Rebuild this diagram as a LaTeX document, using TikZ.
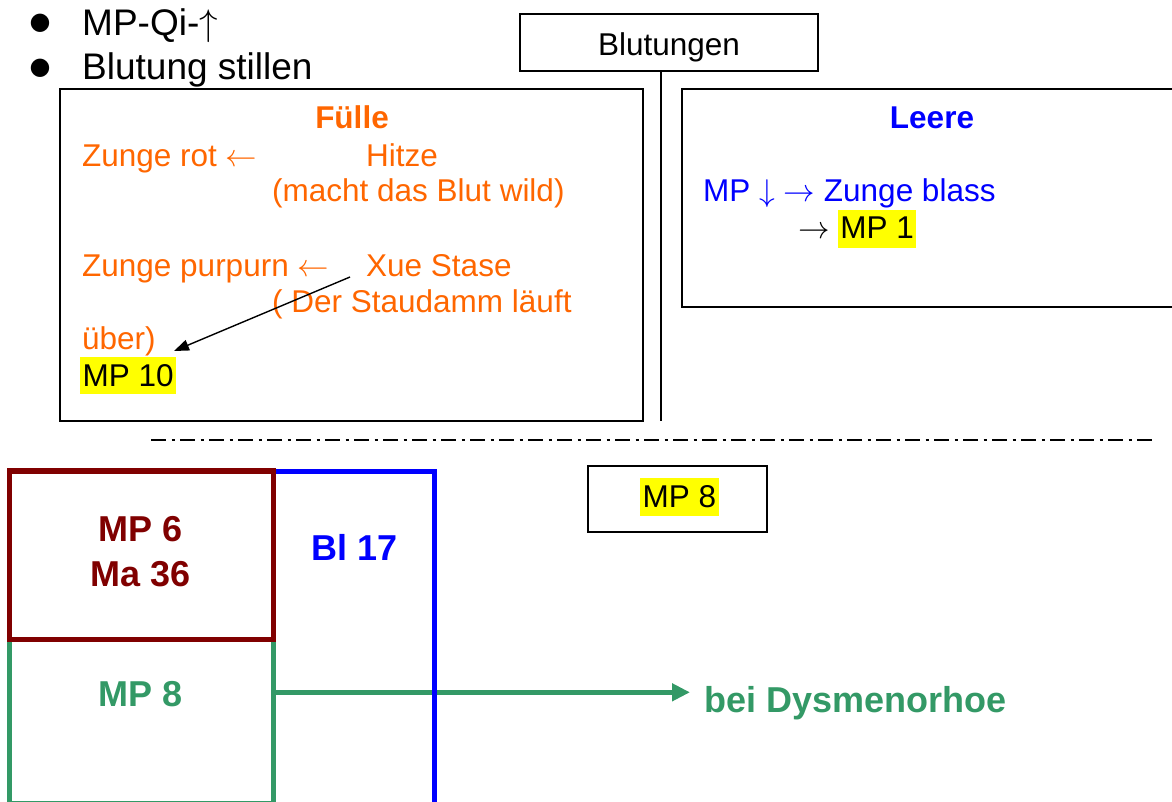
\RequirePackage{fix-cm}
\documentclass[tikz,border=0pt]{standalone}
\usepackage{fontspec}
\setmainfont{Liberation Sans}
\newfontfamily\dejavu{DejaVu Sans}
\newcommand\arw[1]{\ensuremath{#1}}
\usetikzlibrary{arrows.meta}
\definecolor{orng}{HTML}{FF6600}
\definecolor{dred}{HTML}{800000}
\definecolor{sgreen}{HTML}{339966}
\definecolor{hlyel}{HTML}{FFFF00}
\definecolor{pblue}{HTML}{0000FF}
\begin{document}
\begin{tikzpicture}[x=1pt,y=-1pt,
  txt/.style={inner sep=0pt, anchor=base west},
  ctxt/.style={inner sep=0pt, anchor=base},
  body/.style={font=\fontsize{31.5}{37}\selectfont},
  big/.style={font=\fontsize{37}{44}\selectfont},
  bigbold/.style={font=\fontsize{36}{43}\selectfont\bfseries},
  hl/.style={fill=hlyel, inner xsep=2.5pt, inner ysep=0pt, anchor=base west, text=black, body},
  frame/.style={draw=black, line width=1.8pt, rectangle, inner sep=0pt},
  bul/.style={inner sep=0pt, font=\dejavu\fontsize{24}{24}\selectfont}
]
\path[use as bounding box] (0,0) rectangle (1172,801);
\clip (0,0) rectangle (1172,801);

% bullets
\node[bul] (b1) at (40,23) {●};
\node[bul] (b2) at (40,68) {●};
\node[txt, big] (t1) at (82,35) {MP-Qi-\arw{\uparrow}};
\node[txt, big] (t2) at (82,79) {Blutung stillen};

% Blutungen
\node[frame, line width=1.5pt, minimum width=298pt, minimum height=57pt, body,
      text height=30pt, text depth=5pt] (blut) at (669,42.5) {Blutungen};
\coordinate (vt) at (661,71);
\coordinate (vb) at (661,421);
\draw[line width=1.6pt] (vt) -- (vb);

% Fuelle box
\node[frame, minimum width=583pt, minimum height=332pt] (fuelle) at (351.5,255) {};
\node[ctxt, body, font=\fontsize{31.5}{37}\selectfont\bfseries, text=orng] (fh) at (352,128) {Fülle};
\node[txt, body, text=orng] (f1) at (82,166) {Zunge rot \arw{\leftarrow}};
\node[txt, body, text=orng] (f2) at (366,166) {Hitze};
\node[txt, body, text=orng] (f3) at (272,201) {(macht das Blut wild)};
\node[txt, body, text=orng] (f4) at (82,276) {Zunge purpurn \arw{\leftarrow}};
\node[txt, body, text=orng] (f5) at (366,276) {Xue Stase};
\node[txt, body, text=orng] (f6) at (272,312) {( Der Staudamm läuft};
\node[txt, body, text=orng] (f7) at (82,349) {über)};
\node[hl, text height=29pt, text depth=8pt] (mp10) at (80,386) {MP 10};
\coordinate (as) at (350,277);
\coordinate (ae) at (174,351);
\draw[line width=1.4pt, -{Triangle[length=15pt,width=11pt]}] (as) -- (ae);

% Leere box
\node[frame, minimum width=508pt, minimum height=218pt] (leere) at (936,198) {};
\node[ctxt, font=\fontsize{31.5}{37}\selectfont\bfseries, text=pblue] (lh) at (932,128) {Leere};
\node[txt, body, text=pblue] (l1) at (703,201.7) {MP \arw{\downarrow} \arw{\rightarrow} Zunge blass};
\node[txt, body] (l2) at (798,238) {\arw{\rightarrow}};
\node[hl, text height=28pt, text depth=10pt] (mp1) at (837.7,238) {MP 1};

% dash-dot separator
\coordinate (ds) at (151,440);
\coordinate (de) at (1157,440);
\draw[line width=2pt, dash pattern=on 15pt off 5.5pt on 3pt off 5.5pt] (ds) -- (de);

% MP 8 box
\node[frame, minimum width=178.4pt, minimum height=66.3pt] (mp8box) at (677.5,499.2) {};
\node[hl, text height=29.3pt, text depth=8.7pt] (mp8hl) at (640,507) {MP 8};

% bottom boxes
\coordinate (gs) at (276,692.3);
\coordinate (ge) at (690,692.3);
\draw[sgreen, line width=5pt, -{Triangle[length=18pt,width=17pt]}] (gs) -- (ge);
\node[draw=pblue, line width=5.5pt, rectangle, inner sep=0pt,
      minimum width=161.2pt, minimum height=340pt] (blbox) at (353.9,641.5) {};
\node[draw=sgreen, line width=4.5pt, rectangle, inner sep=0pt,
      minimum width=263.8pt, minimum height=163.3pt] (gbox) at (141.4,721.3) {};
\node[draw=dred, line width=5.5pt, rectangle, inner sep=0pt,
      minimum width=263.8pt, minimum height=168.7pt] (rbox) at (141.4,555.3) {};

\node[ctxt, bigbold, text=dred] (r1) at (141,541.7) {MP 6};
\node[ctxt, bigbold, text=dred] (r2) at (141,586) {Ma 36};
\node[ctxt, bigbold, text=pblue] (bl) at (355,560) {Bl 17};
\node[ctxt, bigbold, text=sgreen] (g1) at (141,706.7) {MP 8};
\node[txt, bigbold, text=sgreen] (dys) at (704,712.7) {bei Dysmenorhoe};
\end{tikzpicture}
\end{document}
